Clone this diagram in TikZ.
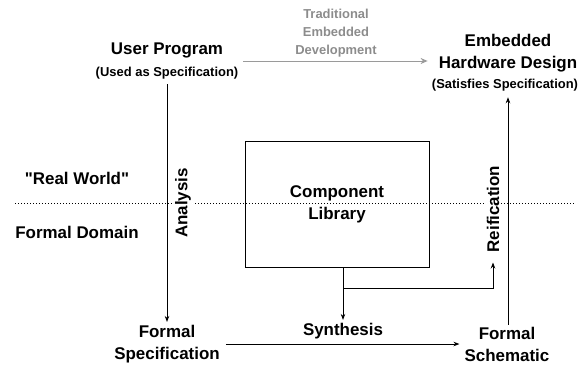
\documentclass[tikz,border=0pt]{standalone}
\usepackage{fontspec}
\setmainfont{Liberation Sans}
\newfontfamily\rawsans{Liberation Sans}
\usetikzlibrary{arrows.meta}
\definecolor{txtgray}{HTML}{8C8C8C}
\definecolor{arrgray}{HTML}{9A9A9A}
\tikzset{
  big/.style={font=\fontsize{17}{22}\selectfont\bfseries, align=center, inner sep=0pt},
  small/.style={font=\fontsize{13}{16}\selectfont\bfseries, align=center, inner sep=0pt},
  greytxt/.style={font=\fontsize{13}{18}\selectfont\bfseries, text=txtgray, align=center, inner sep=0pt},
  sidelabel/.style={font=\fontsize{17}{22}\selectfont\bfseries, rotate=90, fill=white, inner sep=2bp},
  arr/.style={-{Stealth[length=6bp,width=4.5bp]}, line width=0.8bp},
  garr/.style={-{Stealth[length=7bp,width=6bp]}, line width=1bp, draw=arrgray},
  libbox/.style={draw, line width=0.9bp, minimum width=184bp, minimum height=126bp, align=center,
    font=\fontsize{17}{22}\selectfont\bfseries},
  domline/.style={line width=1bp, dash pattern=on 1bp off 2bp},
}
\begin{document}
\begin{tikzpicture}[x=1bp,y=-1bp]
\useasboundingbox (0,0) rectangle (582,366);
% domain separator
\coordinate (dl) at (15,203);
\coordinate (dr) at (576,203);
\draw[domline] (dl) -- (dr);
% nodes
\node[big] (up) at (167,50) {User Program};
\node[small] (ups) at (167,73) {(Used as Specification)};
\node[big] (ehd) at (508,53) {Embedded\\Hardware Design};
\node[small] (ehds) at (505,85) {(Satisfies Specification)};
\node[greytxt] (trad) at (336,33) {Traditional\\Embedded\\Development};
\node[big] (rw) at (77,178) {\rawsans\bfseries "Real World"};
\node[big] (fd) at (77,232) {Formal Domain};
\node[libbox] (lib) at (337,204) {Component\\Library};
\node[sidelabel] (ana) at (183,203) {Analysis};
\node[sidelabel] (reif) at (493,209) {Reification};
\node[big] (fspec) at (167,344) {Formal\\Specification};
\node[big] (fsch) at (507,344) {Formal\\Schematic};
\node[big] (syn) at (343,331) {Synthesis};
\coordinate (br) at (343,288);
% connectors
\draw[garr] ([shift={(20,11)}]up.east) -- ([shift={(-11,8)}]ehd.west);
\draw[arr, shorten <=5bp, shorten >=3bp] (ups.south) -- (fspec.north);
\draw[arr, shorten >=3bp] (br |- lib.south) -- (br |- syn.north);
\draw[arr, shorten >=8bp] (br) -| (reif.west);
\draw[arr, shorten <=6bp, shorten >=5bp] (fspec.east) -- (fsch.west |- fspec.east);
\draw[arr, shorten <=2bp, shorten >=6bp] (fsch.north -| ehds.south) ++(3,0) coordinate (rs) -- (rs |- ehds.south);
\end{tikzpicture}
\end{document}
